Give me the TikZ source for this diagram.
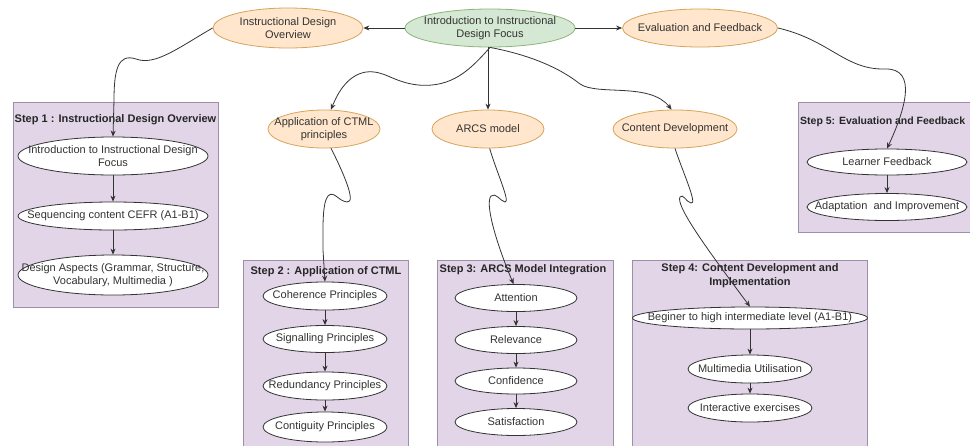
\documentclass[tikz,border=0pt]{standalone}
\usepackage{fontspec}
\setmainfont{Liberation Sans}
\usetikzlibrary{shapes.geometric,arrows.meta,calc}
\definecolor{boxfill}{HTML}{E1D5E7}
\definecolor{boxline}{HTML}{9E8FA8}
\definecolor{orfill}{HTML}{FFE6CC}
\definecolor{orline}{HTML}{D6A45A}
\definecolor{grfill}{HTML}{D5E8D4}
\definecolor{grline}{HTML}{8DB57A}
\definecolor{ink}{HTML}{333333}
\tikzset{
  stepbox/.style={draw=boxline, fill=boxfill, line width=0.7pt},
  steptitle/.style={font=\fontsize{11}{14}\selectfont\bfseries, align=center, inner sep=0pt, text=black!85},
  lbl/.style={font=\fontsize{11}{13}\selectfont, align=center, inner sep=0pt, text=black!80},
  ell/.style n args={2}{ellipse, draw=ink, line width=0.8pt, fill=white, minimum width=#1, minimum height=#2, inner sep=0pt},
  oell/.style n args={2}{ellipse, draw=orline, line width=0.8pt, fill=orfill, minimum width=#1, minimum height=#2, inner sep=0pt},
  gell/.style n args={2}{ellipse, draw=grline, line width=0.8pt, fill=grfill, minimum width=#1, minimum height=#2, inner sep=0pt},
  arr/.style={draw=ink, line width=0.8pt, -{Stealth[length=6pt,width=5pt]}},
}
\begin{document}
\begin{tikzpicture}[x=1pt,y=-1pt]
\useasboundingbox (0,0) rectangle (970,445);
\fill[white] (0,0) rectangle (970,445);

% step boxes
\draw[stepbox] (13,102) rectangle (218,307);
\draw[stepbox] (243,260) rectangle (408,450);
\draw[stepbox] (437,260) rectangle (613,450);
\draw[stepbox] (632,260) rectangle (867,450);
\draw[stepbox] (798,102) rectangle (980,232);

\node[steptitle] (t1) at (115.5,120) {Step 1 : Instructional Design Overview};
\node[steptitle] (t2) at (326,272) {Step 2 : Application of CTML};
\node[steptitle] (t3) at (523,270) {Step 3: ARCS Model Integration};
\node[steptitle] (t4) at (750,276) {Step 4: Content Development and\\Implementation};
\node[steptitle, font=\fontsize{10.5}{13}\selectfont\bfseries, anchor=west] (t5) at (800,122) {Step 5: Evaluation and Feedback};

% top row
\node[gell={170}{38}, label={[lbl]center:{Introduction to Instructional\\Design Focus}}] (green) at (490,28) {};
\node[oell={150}{40}, label={[lbl]center:{Instructional Design\\Overview}}] (ido) at (288,28) {};
\node[oell={155}{38}, label={[lbl]center:{Evaluation and Feedback}}] (ef) at (700,28) {};

% second row
\node[oell={112}{38}, label={[lbl]center:{Application of CTML\\principles}}] (ctml) at (324,129) {};
\node[oell={112}{38}, label={[lbl]center:{ARCS model}}] (arcs) at (488,129) {};
\node[oell={124}{38}, label={[lbl]center:{Content Development}}] (cd) at (675,129) {};

% step 1
\node[ell={190}{38}, label={[lbl]center:{Introduction to Instructional Design\\Focus}}] (s1a) at (113,156) {};
\node[ell={190}{28}, label={[lbl]center:{Sequencing content CEFR (A1-B1)}}] (s1b) at (113,216) {};
\node[ell={190}{40}, label={[lbl]center:{Design Aspects (Grammar, Structure,\\Vocabulary, Multimedia )}}] (s1c) at (113,275) {};

% step 2
\node[ell={124}{28}, label={[lbl]center:{Coherence Principles}}] (coh) at (325,296) {};
\node[ell={124}{27}, label={[lbl]center:{Signalling Principles}}] (sig) at (325,339) {};
\node[ell={124}{28}, label={[lbl]center:{Redundancy Principles}}] (red) at (325,386) {};
\node[ell={124}{30}, label={[lbl]center:{Contiguity Principles}}] (con) at (325,427) {};

% step 3
\node[ell={122}{27}, label={[lbl]center:{Attention}}] (att) at (516,298) {};
\node[ell={122}{27}, label={[lbl]center:{Relevance}}] (rel) at (516,340) {};
\node[ell={122}{26}, label={[lbl]center:{Confidence}}] (conf) at (516,381) {};
\node[ell={122}{27}, label={[lbl]center:{Satisfaction}}] (sat) at (516,422) {};

% step 4
\node[ell={235}{22}, label={[lbl]center:{Beginer to high intermediate level (A1-B1)}}] (beg) at (750,318) {};
\node[ell={124}{28}, label={[lbl]center:{Multimedia Utilisation}}] (mm) at (750,369) {};
\node[ell={124}{28}, label={[lbl]center:{Interactive exercises}}] (ie) at (750,408) {};

% step 5
\node[ell={160}{26}, label={[lbl]center:{Learner Feedback}}] (lf) at (887,162) {};
\node[ell={160}{27}, label={[lbl]center:{Adaptation~ and Improvement}}] (ad) at (887,207) {};

% top connectors
\draw[arr] (green.west) -- (ido.east);
\draw[arr] (green.east) -- (ef.west);
\draw[arr] (arcs.north |- green.south) -- (arcs.north);
\draw[arr] (green.south) .. controls (470,70) and (452,88) .. (418,85)
   .. controls (392,82) and (385,70) .. (366,72)
   .. controls (348,75) and (338,92) .. (ctml.70);
\draw[arr] (green.south) .. controls (530,55) and (560,68) .. (580,84)
   .. controls (598,96) and (650,82) .. (cd.100);

% to step boxes
\draw[arr] (ido.west) .. controls (178,48) and (155,66) .. (136,59)
   .. controls (118,53) and (114,70) .. (114,100) -- (s1a.north);
\draw[arr] (ef.east) .. controls (830,40) and (845,70) .. (885,69)
   .. controls (918,68) and (905,110) .. (lf.north);
\draw[arr] (ctml.-70) .. controls (342,170) and (357,203) .. (347,202)
   .. controls (338,201) and (334,190) .. (328,196)
   .. controls (322,203) and (323,230) .. (323,250) -- (coh.north);
\draw[arr] (arcs.-85) .. controls (495,168) and (511,203) .. (505,202)
   .. controls (500,201) and (496,192) .. (491,196)
   .. controls (485,203) and (495,240) .. (att.100);
\draw[arr] (cd.south) .. controls (682,170) and (698,205) .. (691,203)
   .. controls (686,202) and (683,193) .. (680,197)
   .. controls (676,205) and (700,240) .. (beg.north);

% inner connectors
\draw[arr] (s1a.south) -- (s1b.north);
\draw[arr] (s1b.south) -- (s1c.north);
\draw[arr] (coh.south) -- (sig.north);
\draw[arr] (sig.south) -- (red.north);
\draw[arr] (red.south) -- (con.north);
\draw[arr] (att.south) -- (rel.north);
\draw[arr] (rel.south) -- (conf.north);
\draw[arr] (conf.south) -- (sat.north);
\draw[arr] (beg.south) -- (mm.north);
\draw[arr] (mm.south) -- (ie.north);
\draw[arr] (lf.south) -- (ad.north);
\end{tikzpicture}
\end{document}
